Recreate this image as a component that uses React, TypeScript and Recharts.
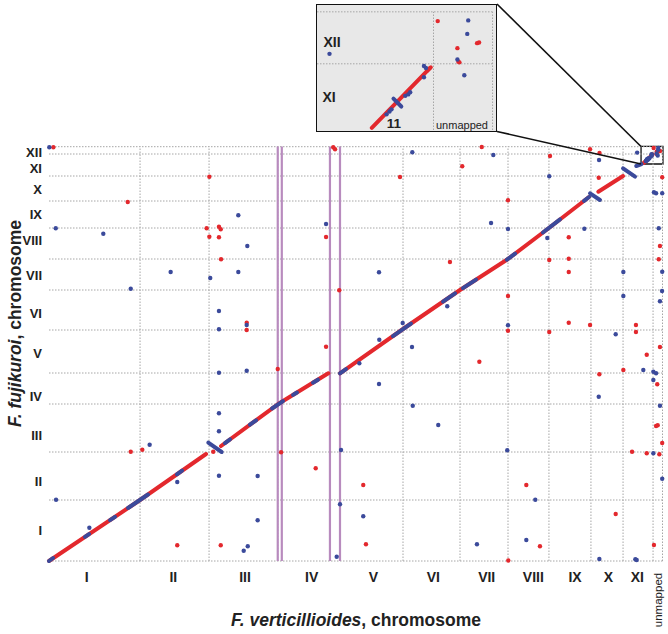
import { ScatterChart, Scatter, XAxis, YAxis, ReferenceLine, ReferenceArea } from 'recharts'

type P = [number, number]

const RED = '#e3282d'
const BLUE = '#3b4a9b'
const GRID = '#a6a6a6'
const PURPLE = '#b88bbe'
const FONT = '"Liberation Sans", Arial, sans-serif'

// positions in Mb, F. verticillioides (x) vs F. fujikuroi (y)
const X_MAX = 40.9
const Y_MAX = 41.45

const xNames = ['I', 'II', 'III', 'IV', 'V', 'VI', 'VII', 'VIII', 'IX', 'X', 'XI', 'unmapped']
const yNames = ['I', 'II', 'III', 'IV', 'V', 'VI', 'VII', 'VIII', 'IX', 'X', 'XI', 'XII']

const xBounds = [6.07, 10.67, 15.25, 19.4, 23.6, 27.4, 30.6, 33.33, 36.13, 38.27, 40.27, 40.9]
const yBounds = [0, 6.1, 10.9, 15.7, 18.8, 23.1, 27.1, 30.2, 33.3, 36.0, 38.5, 40.7, 41.43]
const xLabelPos = [2.51, 8.29, 13.07, 17.51, 21.62, 25.62, 29.18, 32.29, 35.07, 37.29, 39.22, 40.62]
const yLabelPos = [3.1, 7.93, 12.6, 16.43, 20.77, 24.77, 28.6, 32.1, 34.7, 37.17, 39.3, 40.9]

// region boundaries on chromosome IV (purple)
const gapLines = [15.25, 15.52, 18.73, 19.4]

// syntenic blocks along the diagonal
const redBlocks: P[][] = [
  [[0, 0], [6.07, 6.1], [10.47, 10.7]],
  [[11.47, 11.5], [15.25, 15.67], [18.62, 18.77]],
  [[19.4, 18.77], [23.6, 23.2], [27.4, 27.1], [30.6, 30.2], [33.33, 33.3], [36.0, 36.4]],
  [[36.62, 36.93], [38.27, 38.5]],
  [[39.64, 39.8], [40.23, 40.64]],
  [[40.2, 40.6], [40.24, 40.65]],
]

const blueBlocks: P[][] = [
  [[0, 0], [0.27, 0.3]],
  [[2.4, 2.41], [2.67, 2.68]],
  [[4.07, 4.09], [4.4, 4.42]],
  [[5.27, 5.3], [6.6, 6.65]],
  [[8.53, 8.67], [8.87, 9.03]],
  [[10.62, 11.83], [11.51, 10.9]],
  [[11.73, 11.79], [12.07, 12.16]],
  [[13.4, 13.63], [13.8, 14.07]],
  [[14.87, 15.25], [15.6, 15.99]],
  [[16.27, 16.61], [16.53, 16.85]],
  [[17.6, 17.83], [17.93, 18.13]],
  [[19.4, 18.77], [19.8, 19.19]],
  [[22.93, 22.49], [24.13, 23.74]],
  [[26.27, 25.94], [27.07, 26.76]],
  [[27.6, 27.29], [28.47, 28.14]],
  [[30.53, 30.13], [31.07, 30.73]],
  [[32.93, 32.85], [34.07, 34.16]],
  [[35.67, 36.02], [36.0, 36.4]],
  [[36.07, 36.77], [36.73, 36.1]],
  [[38.27, 39.27], [39.07, 38.43]],
  [[39.15, 39.5], [39.5, 39.68]],
  [[39.86, 40.21], [39.94, 40.1]],
]

const redDots: P[] = [
  [0.29, 41.37], [10.69, 38.43], [5.25, 35.9], [10.51, 33.27], [11.33, 33.43], [11.45, 33.17],
  [10.69, 32.43], [11.33, 32.37], [18.47, 32.4], [11.47, 30.17], [19.35, 27.07], [13.18, 23.83],
  [13.18, 23.1], [18.47, 21.43], [18.95, 41.37], [19.07, 41.17], [28.85, 41.4], [33.4, 40.5],
  [36.07, 41.17], [36.7, 40.8], [27.55, 39.47], [23.4, 38.4], [36.65, 38.33], [40.88, 38.37],
  [30.6, 36.07], [34.65, 32.37], [40.73, 31.5], [26.73, 29.9], [33.35, 30.1], [34.65, 30.23],
  [40.65, 30.17], [34.65, 28.9], [30.6, 26.5], [34.65, 23.83], [36.07, 23.6], [39.13, 23.6],
  [30.6, 23.03], [33.35, 22.9], [39.13, 22.9], [40.73, 21.4], [39.85, 20.63], [28.69, 19.93],
  [36.69, 18.67], [38.29, 19.1], [40.55, 17.67], [40.47, 13.5], [40.58, 13.57], [40.88, 11.8],
  [38.87, 10.93], [39.85, 10.77], [40.69, 10.67], [20.95, 7.6], [31.82, 7.6], [37.78, 4.7],
  [21.13, 1.67], [32.73, 1.47], [40.33, 1.6], [30.62, 0.05], [15.25, 19.2], [5.45, 10.93],
  [6.22, 11.13], [15.47, 10.87], [17.78, 9.27], [8.55, 1.57], [11.45, 1.57], [10.95, 10.93],
  [40.31, 41.3], [40.71, 40.99], [40.73, 41.0], [40.51, 40.92], [40.52, 40.73], [40.53, 40.72],
]

const blueDots: P[] = [
  [0.02, 41.37], [12.62, 34.57], [0.45, 33.27], [18.47, 33.7], [3.62, 32.73], [13.22, 31.5],
  [8.11, 28.9], [12.62, 28.9], [10.75, 28.3], [5.45, 27.23], [11.33, 25.0], [13.18, 23.6],
  [11.33, 23.17], [24.22, 40.87], [29.62, 40.6], [36.67, 40.1], [33.35, 38.47], [40.33, 36.87],
  [40.47, 36.77], [40.88, 36.77], [29.47, 33.8], [30.6, 33.2], [35.69, 33.23], [40.65, 33.27],
  [33.22, 32.3], [22.0, 28.87], [38.29, 28.9], [40.88, 28.93], [40.87, 27.0], [38.29, 26.5],
  [40.73, 25.97], [26.55, 25.47], [23.58, 23.8], [30.6, 23.57], [22.02, 22.13], [37.78, 22.67],
  [24.2, 21.4], [20.69, 19.77], [39.62, 19.1], [40.29, 18.93], [40.47, 18.77], [40.29, 18.1],
  [22.0, 17.7], [36.65, 16.43], [24.25, 15.53], [40.73, 15.53], [25.95, 13.6], [19.47, 11.1],
  [30.55, 11.07], [40.29, 10.77], [40.88, 8.23], [32.42, 6.13], [19.4, 5.67], [20.95, 4.47],
  [31.82, 2.1], [28.53, 1.67], [19.18, 0.43], [36.69, 0.2], [39.09, 0.17], [39.18, 0.1],
  [11.33, 18.83], [13.18, 19.03], [11.33, 14.77], [11.33, 12.97], [6.71, 11.63], [11.33, 8.53],
  [13.91, 8.5], [8.55, 7.9], [0.47, 6.13], [2.69, 3.33], [13.91, 4.07], [12.98, 1.03], [13.25, 1.47],
  [39.79, 39.99], [39.82, 40.03], [39.84, 40.06], [39.98, 40.25], [40.01, 40.27], [40.03, 40.3],
  [40.17, 40.51], [40.17, 40.67], [40.19, 40.64], [39.21, 40.84], [40.62, 41.31], [40.61, 41.12],
  [40.51, 40.76], [40.58, 40.54],
]

// zoomed window (inset) and the box marking it on the main plot
const insetX: P = [39.083, 40.892]
const insetY: P = [39.77, 41.526]
const zoomBox = { x1: 39.47, x2: 40.93, y1: 39.7, y2: 41.46 }

const pts = (a: P[]) => a.map(([x, y]) => ({ x, y }))
const noDot = () => <g />
const dot = (color: string) => (p: any) => <circle cx={p.cx} cy={p.cy} r={2.2} fill={color} />

function XTick(props: any) {
  const name = xNames[props.index]
  if (name === 'unmapped') {
    return (
      <text transform={`translate(${props.x},600) rotate(-90)`} textAnchor="middle" dominantBaseline="central"
        fontSize={11.5} fontFamily={FONT} fill="#222">{name}</text>
    )
  }
  return (
    <text x={props.x} y={576.5} textAnchor="middle" dominantBaseline="central"
      fontSize={14} fontWeight="bold" fontFamily={FONT} fill="#222">{name}</text>
  )
}

function YTick(props: any) {
  return (
    <text x={42} y={props.y} textAnchor="end" dominantBaseline="central"
      fontSize={13} fontWeight="bold" fontFamily={FONT} fill="#222">{yNames[props.index]}</text>
  )
}

function Series({ inset }: { inset?: boolean }) {
  const inWin = (p: P) => !inset || (p[0] >= insetX[0] - 0.05 && p[0] <= insetX[1] + 0.05 && p[1] >= insetY[0] - 0.05 && p[1] <= insetY[1] + 0.05)
  const lineStyle = (c: string) => ({ stroke: c, strokeWidth: 4, strokeLinecap: 'round', strokeLinejoin: 'round' })
  return [
    ...redBlocks.map((b, i) => (
      <Scatter key={'rb' + i} data={pts(b)} line={lineStyle(RED)} shape={noDot} isAnimationActive={false} />
    )),
    ...blueBlocks.map((b, i) => (
      <Scatter key={'bb' + i} data={pts(b)} line={lineStyle(BLUE)} shape={noDot} isAnimationActive={false} />
    )),
    <Scatter key="rd" data={pts(redDots.filter(inWin))} shape={dot(RED)} isAnimationActive={false} />,
    <Scatter key="bd" data={pts(blueDots.filter(inWin))} shape={dot(BLUE)} isAnimationActive={false} />,
  ]
}

export default function App() {
  const dotted = { stroke: GRID, strokeDasharray: '1.5 1.5', strokeWidth: 1 }
  return (
    <div style={{ position: 'absolute', left: 0, top: 0, width: 668, height: 634, background: '#fff' }}>
      <div style={{ position: 'absolute', left: 0, top: 0 }}>
        <ScatterChart width={668} height={634} margin={{ top: 146.5, right: 5.5, bottom: 0, left: 0 }}>
          <XAxis type="number" dataKey="x" domain={[0, X_MAX]} ticks={xLabelPos} interval={0} tick={XTick}
            axisLine={false} tickLine={false} height={73} />
          <YAxis type="number" dataKey="y" domain={[0, Y_MAX]} ticks={yLabelPos} interval={0} tick={YTick}
            axisLine={false} tickLine={false} width={49} />
          {yBounds.map((v) => <ReferenceLine key={'h' + v} y={v} {...dotted} />)}
          {xBounds.map((v) => <ReferenceLine key={'v' + v} x={v} {...dotted} />)}
          {gapLines.map((v) => <ReferenceLine key={'g' + v} x={v} stroke={PURPLE} strokeWidth={2.2} />)}
          {Series({})}
          <ReferenceArea {...zoomBox} fill="none" stroke="#111" strokeWidth={1.3} ifOverflow="visible" />
        </ScatterChart>
      </div>

      <div style={{ position: 'absolute', left: 316, top: 4, width: 181, height: 128, boxSizing: 'border-box',
        border: '1.5px solid #111', background: '#e8e8e8' }}>
        <ScatterChart width={178} height={125} margin={{ top: 0, right: 0, bottom: 0, left: 0 }}>
          <XAxis type="number" dataKey="x" domain={insetX} hide allowDataOverflow />
          <YAxis type="number" dataKey="y" domain={insetY} hide allowDataOverflow />
          <ReferenceLine segment={[{ x: 40.267, y: insetY[0] }, { x: 40.267, y: 41.43 }]} {...dotted} ifOverflow="visible" />
          <ReferenceLine segment={[{ x: 40.867, y: insetY[0] }, { x: 40.867, y: 41.43 }]} {...dotted} ifOverflow="visible" />
          <ReferenceLine segment={[{ x: insetX[0], y: 40.7 }, { x: 40.867, y: 40.7 }]} {...dotted} ifOverflow="visible" />
          <ReferenceLine segment={[{ x: insetX[0], y: 41.43 }, { x: 40.867, y: 41.43 }]} {...dotted} ifOverflow="visible" />
          {Series({ inset: true })}
        </ScatterChart>
      </div>

      <svg width={668} height={634} style={{ position: 'absolute', left: 0, top: 0, pointerEvents: 'none' }}
        fontFamily={FONT}>
        <line x1={497} y1={4} x2={641} y2={146.5} stroke="#111" strokeWidth={1.6} />
        <line x1={497} y1={131.5} x2={641} y2={164} stroke="#111" strokeWidth={1.6} />
        <text x={332} y={42} textAnchor="middle" dominantBaseline="central" fontSize={14} fontWeight="bold" fill="#222">XII</text>
        <text x={329} y={97} textAnchor="middle" dominantBaseline="central" fontSize={14} fontWeight="bold" fill="#222">XI</text>
        <text x={394} y={123} textAnchor="middle" dominantBaseline="central" fontSize={13.5} fontWeight="bold" fill="#222">11</text>
        <text x={462} y={125} textAnchor="middle" dominantBaseline="central" fontSize={11} fill="#222">unmapped</text>
        <text x={356} y={620} textAnchor="middle" dominantBaseline="central" fontSize={17.5} fontWeight="bold" fill="#222">
          <tspan fontStyle="italic">F. verticillioides</tspan>, chromosome
        </text>
        <text transform="translate(15,323.5) rotate(-90)" textAnchor="middle" dominantBaseline="central"
          fontSize={17.5} fontWeight="bold" fill="#222">
          <tspan fontStyle="italic">F. fujikuroi</tspan>, chromosome
        </text>
      </svg>
    </div>
  )
}
